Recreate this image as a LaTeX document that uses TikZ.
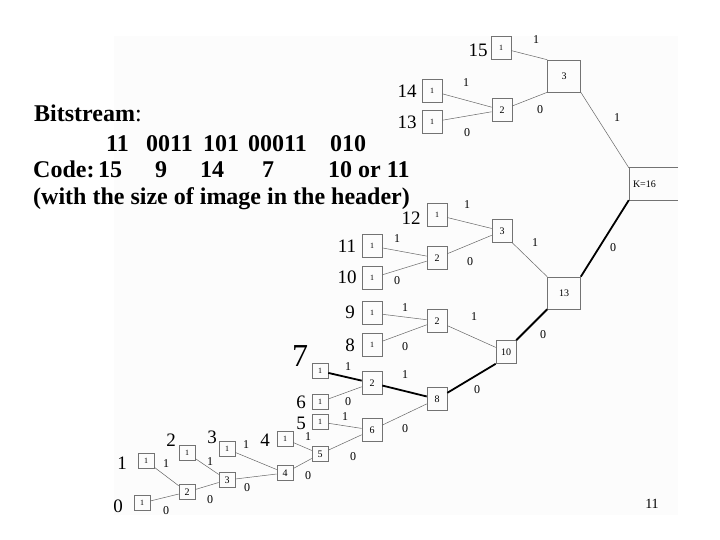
\documentclass[tikz,border=0pt]{standalone}
\usepackage{fontspec}
\setmainfont{Liberation Serif}
\newcommand{\fsz}[1]{\fontsize{#1}{#1}\selectfont}

\begin{document}
\begin{tikzpicture}[x=1pt, y=-1pt,
	box/.style={draw=black!55, line width=0.6pt, inner sep=0pt, minimum width=20pt, minimum height=23pt, font=\fsz{10}},
	leaf/.style={box, font=\fsz{8}},
	sleaf/.style={leaf, minimum width=16pt, minimum height=15pt},
	sbox/.style={box, minimum width=16pt, minimum height=15pt},
	bigbox/.style={box, minimum width=33pt, minimum height=32pt},
	kbox/.style={inner ysep=0pt, inner xsep=4pt, text width=41pt, minimum height=32pt, align=left, font=\fsz{10}},
	sym/.style={inner sep=0pt, font=\fsz{19}},
	bit/.style={inner sep=0pt, font=\fsz{12}},
	link/.style={draw=black!60, line width=0.5pt},
	hot/.style={draw=black, line width=1.8pt},
	txt/.style={anchor=base west, inner sep=0pt, font=\fsz{24}\bfseries}]
	\useasboundingbox (0,0) rectangle (720,540);
	\fill[black!1] (114,36) rectangle (678,515);

	\node[leaf] (l15) at (501,48) {1};
	\node[bigbox] (t3) at (564,76) {3};
	\node[box] (t2) at (502,110) {2};
	\node[leaf] (l14) at (432,91) {1};
	\node[leaf] (l13) at (432,122) {1};
	\node[kbox] (K) at (653.5,184) {K=16};
	\draw[draw=black!55, line width=0.6pt] (K.north east) -- (K.north west) -- (K.south west) -- (K.south east);

	\node[leaf] (l12) at (437,215) {1};
	\node[box] (m3) at (502,231) {3};
	\node[leaf] (l11) at (372,246) {1};
	\node[box] (m2a) at (437,258) {2};
	\node[leaf] (l10) at (372,278) {1};
	\node[bigbox] (m13) at (564,293) {13};
	\node[leaf] (l9) at (372,313) {1};
	\node[leaf] (l8) at (372,345) {1};
	\node[box] (m2b) at (437,321) {2};
	\node[box] (m10) at (506,352) {10};

	\node[sleaf] (l7) at (320,371) {1};
	\node[box] (n2) at (372,383) {2};
	\node[sleaf] (l6) at (320,402) {1};
	\node[box] (n8) at (437,399) {8};
	\node[sleaf] (l5) at (320,422) {1};
	\node[box] (n6) at (372,430) {6};
	\node[sbox] (n5) at (320,454) {5};

	\node[sleaf] (l4) at (285,439) {1};
	\node[sbox] (b4) at (285,473) {4};
	\node[sleaf] (l3) at (227,449) {1};
	\node[sbox] (b3) at (227,480) {3};
	\node[sleaf] (l2) at (187,453) {1};
	\node[sbox] (b2) at (187,492) {2};
	\node[sleaf] (l1) at (146,461) {1};
	\node[sleaf] (l0) at (142,503) {1};

	\draw[link] (l15) -- (t3.north west);
	\draw[link] (l14) -- (t2);
	\draw[link] (l13) -- (t2);
	\draw[link] (t2) -- (t3.south west);
	\draw[link] (t3.south east) -- (K.north west);
	\draw[hot] (K.south west) -- (m13.north east);
	\draw[link] (l12) -- (m3);
	\draw[link] (l11) -- (m2a);
	\draw[link] (l10) -- (m2a);
	\draw[link] (m2a) -- (m3);
	\draw[link] (m3.south east) -- (m13.north west);
	\draw[link] (l9) -- (m2b);
	\draw[link] (l8) -- (m2b);
	\draw[link] (m2b) -- (m10);
	\draw[hot] (m10.north east) -- (m13.south west);
	\draw[hot] (l7) -- (n2);
	\draw[hot] (n2) -- (n8);
	\draw[hot] (n8) -- (m10.south west);
	\draw[link] (l6) -- (n2);
	\draw[link] (l5) -- (n6);
	\draw[link] (n5) -- (n6);
	\draw[link] (n6) -- (n8);
	\draw[link] (l4) -- (n5);
	\draw[link] (b4) -- (n5);
	\draw[link] (l3) -- (b4);
	\draw[link] (b3) -- (b4);
	\draw[link] (l2) -- (b3);
	\draw[link] (b2) -- (b3);
	\draw[link] (l1) -- (b2);
	\draw[link] (l0) -- (b2);

	\node[bit] (e1) at (536,40) {1};
	\node[bit] (e2) at (540,110) {0};
	\node[bit] (e3) at (466,83) {1};
	\node[bit] (e4) at (467,133) {0};
	\node[bit] (e5) at (617,118) {1};
	\node[bit] (e6) at (613,248) {0};
	\node[bit] (e7) at (467,205) {1};
	\node[bit] (e8) at (470,262) {0};
	\node[bit] (e9) at (535,243) {1};
	\node[bit] (e10) at (397,239) {1};
	\node[bit] (e11) at (397,281) {0};
	\node[bit] (e12) at (405,308) {1};
	\node[bit] (e13) at (405,347) {0};
	\node[bit] (e14) at (474,317) {1};
	\node[bit] (e15) at (543,335) {0};
	\node[bit] (e16) at (348,367) {1};
	\node[bit] (e17) at (405,375) {1};
	\node[bit] (e18) at (348,402) {0};
	\node[bit] (e19) at (345,417) {1};
	\node[bit] (e20) at (405,429) {0};
	\node[bit] (e21) at (477,390) {0};
	\node[bit] (e22) at (353,457) {0};
	\node[bit] (e23) at (166,464) {1};
	\node[bit] (e24) at (166,511) {0};
	\node[bit] (e25) at (210,462) {1};
	\node[bit] (e26) at (210,500) {0};
	\node[bit] (e27) at (246,445) {1};
	\node[bit] (e28) at (247,488) {0};
	\node[bit] (e29) at (308,437) {1};
	\node[bit] (e30) at (308,476) {0};

	\node[sym] (s15) at (478,50) {15};
	\node[sym] (s14) at (407,91) {14};
	\node[sym] (s13) at (407,122) {13};
	\node[sym] (s12) at (411,218) {12};
	\node[sym] (s11) at (347,246) {11};
	\node[sym] (s10) at (347,277) {10};
	\node[sym] (s9) at (350,312) {9};
	\node[sym] (s8) at (350,345) {8};
	\node[sym, font=\fsz{32}] (s7) at (300,356) {7};
	\node[sym] (s6) at (301,402) {6};
	\node[sym] (s5) at (301,423) {5};
	\node[sym] (s4) at (265,440) {4};
	\node[sym] (s3) at (212,437) {3};
	\node[sym] (s2) at (171,440) {2};
	\node[sym] (s1) at (122,463) {1};
	\node[sym] (s0) at (118,506) {0};

	\node[txt] (head) at (34,122) {Bitstream\mdseries:};
	\node[txt] (w1) at (106,152) {11};
	\node[txt] (w2) at (146,152) {0011};
	\node[txt] (w3) at (203,152) {101};
	\node[txt] (w4) at (248,152) {00011};
	\node[txt] (w5) at (330,152) {010};
	\node[txt] (code) at (33,178) {Code:};
	\node[txt] (c1) at (98,178) {15};
	\node[txt] (c2) at (155,178) {9};
	\node[txt] (c3) at (200,178) {14};
	\node[txt] (c4) at (262,178) {7};
	\node[txt] (c5) at (328,178) {10 or 11};
	\node[txt] (note) at (33,205) {(with the size of image in the header)};

	\node[font=\fsz{14}] (pg) at (652,504) {11};
\end{tikzpicture}
\end{document}
